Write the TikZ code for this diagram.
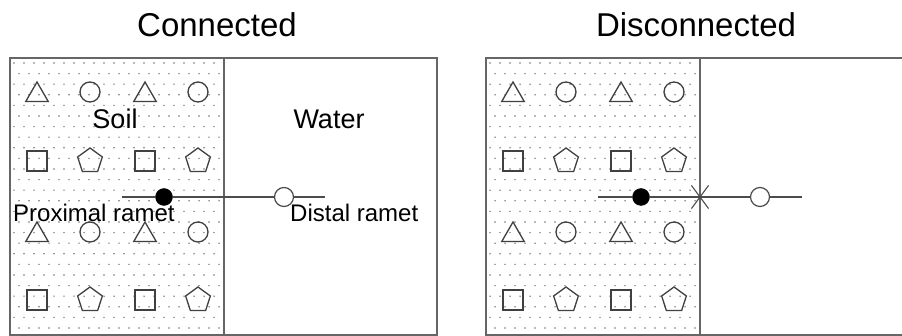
\documentclass[tikz,border=0pt]{standalone}
\usepackage{fontspec}
\setmainfont{Liberation Sans}
\usetikzlibrary{shapes.geometric,shapes.misc,positioning}
\tikzset{
  panel/.style={draw=black!60, line width=1.4pt},
  soildot/.style={fill=black!55},
  plant/.style={draw=black!75, line width=1.3pt, inner sep=0pt},
  tri/.style={plant, regular polygon, regular polygon sides=3, minimum size=26pt, yshift=-3pt},
  pent/.style={plant, regular polygon, regular polygon sides=5, minimum size=26pt},
  rnd/.style={plant, circle, minimum size=20pt},
  sqr/.style={plant, rectangle, minimum size=20pt},
  stolon/.style={draw=black!70, line width=1.3pt},
  prox/.style={circle, fill=black, draw=black, inner sep=0pt, minimum size=17pt},
  dist/.style={circle, fill=white, draw=black!70, line width=1.2pt, inner sep=0pt, minimum size=19pt},
  cut/.style={cross out, draw=black!70, line width=1.1pt, inner sep=0pt, minimum width=16pt, minimum height=22pt},
  lbl/.style={font=\fontsize{24}{28}\selectfont, anchor=base, inner sep=0pt},
  zone/.style={font=\fontsize{27}{30}\selectfont, anchor=base, inner sep=0pt},
  title/.style={font=\fontsize{33}{36}\selectfont, anchor=base, inner sep=0pt}
}
% panel frame, soil dots and plants; #1 = name prefix
\newcommand{\soilpanel}[1]{%
  \foreach \j in {0,...,25}
    \foreach \i in {0,...,20}
      \fill[soildot] ({4+10*\i+5*mod(\j,2)},{5+10.6*\j}) circle (0.8pt);
  \draw[panel] (0,0) rectangle (427,277);
  \draw[panel] (214,0) -- (214,277);
  \foreach \x [count=\c] in {27,135} {
    \node[tri] (#1-ta\c) at (\x,34) {};
    \node[tri] (#1-tb\c) at (\x,174) {};
    \node[sqr] (#1-sa\c) at (\x,103) {};
    \node[sqr] (#1-sb\c) at (\x,242) {};
  }
  \foreach \x [count=\c] in {80,188} {
    \node[rnd] (#1-ca\c) at (\x,34) {};
    \node[rnd] (#1-cb\c) at (\x,174) {};
    \node[pent] (#1-pa\c) at (\x,103) {};
    \node[pent] (#1-pb\c) at (\x,242) {};
  }
}

\begin{document}
\begin{tikzpicture}[x=1pt,y=-1pt]
\useasboundingbox (0,0) rectangle (902,336);
\clip (0,0) rectangle (902,336);
\node[title] (conn) at (217,37) {Connected};
\node[title] (disc) at (696,37) {Disconnected};
% connected
\begin{scope}[shift={(10,58)}]
\soilpanel{c}
\node[zone] (soil) at (105,71) {Soil};
\node[zone] (water) at (319,71) {Water};
\coordinate (c-start) at (112,139);
\coordinate (c-end) at (315,139);
\node[prox] (c-prox) at (154,139) {};
\node[dist] (c-dist) at (274,139) {};
\path[stolon] (c-start) -- (c-prox) -- (c-dist) -- (c-end);
\node[lbl, anchor=base west] (c-plab) at (3,164) {Proximal ramet};
\node[lbl, anchor=base west] (c-dlab) at (280,164) {Distal ramet};
\end{scope}
% disconnected
\begin{scope}[shift={(486,58)}]
\soilpanel{d}
\coordinate (d-start) at (112,139);
\coordinate (d-end) at (316,139);
\coordinate (d-cut) at (214,139);
\node[prox] (d-prox) at (155,139) {};
\node[dist] (d-dist) at (274,139) {};
\path[stolon] (d-start) -- (d-prox) -- (d-cut) -- (d-dist) -- (d-end);
\node[cut] (d-x) at (d-cut) {};
\end{scope}
\end{tikzpicture}
\end{document}
